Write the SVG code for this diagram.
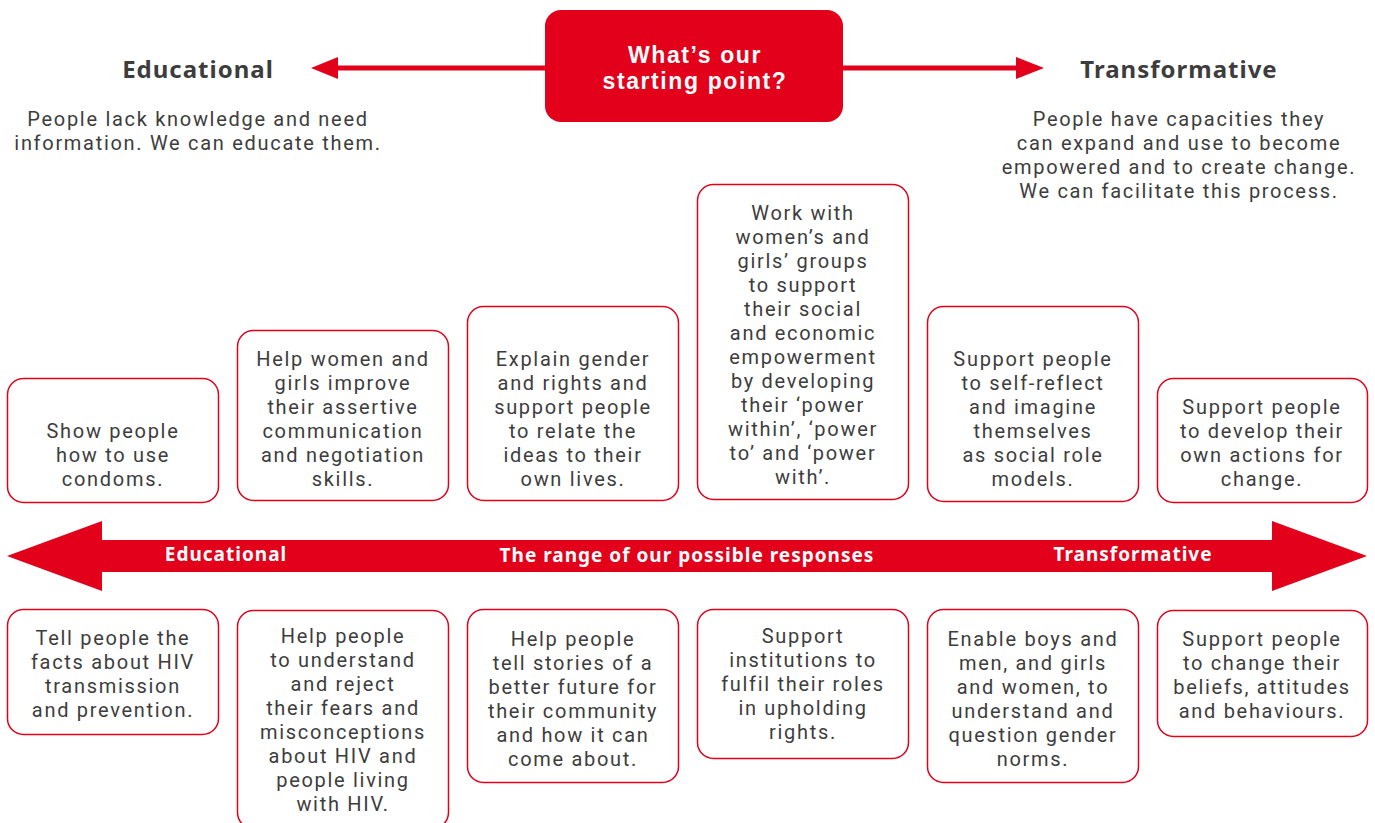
<svg xmlns="http://www.w3.org/2000/svg" width="1375" height="823" viewBox="0 0 1375 823">
<style>
.t{font-family:Roboto,"Noto Sans",sans-serif;font-size:20px;letter-spacing:1.7px;fill:#3d3d3d;text-anchor:middle}
.h{font-family:"Noto Sans",Roboto,sans-serif;font-size:24px;letter-spacing:1px;font-weight:bold;fill:#3d3d3d;text-anchor:middle}
.w{font-family:"Noto Sans",Roboto,sans-serif;font-weight:bold;letter-spacing:1px;fill:#fff;text-anchor:middle}
.q{font-family:"Liberation Sans",Arial,sans-serif;font-size:23px;font-weight:bold;letter-spacing:1.6px;fill:#fff;text-anchor:middle}
.box{fill:#fff;stroke:#e2001a;stroke-width:1.5}
</style>
<rect width="1375" height="823" fill="#fff"/>
<g id="connectors">
<line x1="330" y1="68" x2="545" y2="68" stroke="#e2001a" stroke-width="5"/>
<polygon points="311,68 338,57 338,79" fill="#e2001a"/>
<line x1="843" y1="68" x2="1020" y2="68" stroke="#e2001a" stroke-width="5"/>
<polygon points="1044,68 1016,57 1016,79" fill="#e2001a"/>
<polygon id="range-bar" points="7,556 102,521 102,540 1272,540 1272,521 1367,556 1272,591 1272,572 102,572 102,591" fill="#e2001a"/>
<text class="w" x="226" y="561" font-size="19">Educational</text>
<text class="w" x="687" y="562" font-size="19">The range of our possible responses</text>
<text class="w" x="1133" y="561" font-size="19">Transformative</text>
</g>
<g id="start">
<rect x="545" y="10" width="298" height="112" rx="16" fill="#e2001a"/>
<text class="q" x="695" y="63">What’s our</text>
<text class="q" x="695" y="89">starting point?</text>
</g>
<g id="educational">
<text class="h" x="198" y="78">Educational</text>
<text class="t" x="198" y="126">People lack knowledge and need</text>
<text class="t" x="198" y="150">information. We can educate them.</text>
</g>
<g id="transformative">
<text class="h" x="1179" y="78">Transformative</text>
<text class="t" x="1179" y="126">People have capacities they</text>
<text class="t" x="1179" y="150">can expand and use to become</text>
<text class="t" x="1179" y="174">empowered and to create change.</text>
<text class="t" x="1179" y="198">We can facilitate this process.</text>
</g>
<g id="top1">
<rect class="box" x="7.5" y="378.5" width="211" height="124" rx="16"/>
<text class="t" x="113" y="438">Show people</text>
<text class="t" x="113" y="462">how to use</text>
<text class="t" x="113" y="486">condoms.</text>
</g>
<g id="top2">
<rect class="box" x="237.5" y="330.5" width="211" height="170" rx="16"/>
<text class="t" x="343" y="366">Help women and</text>
<text class="t" x="343" y="390">girls improve</text>
<text class="t" x="343" y="414">their assertive</text>
<text class="t" x="343" y="438">communication</text>
<text class="t" x="343" y="462">and negotiation</text>
<text class="t" x="343" y="486">skills.</text>
</g>
<g id="top3">
<rect class="box" x="467.5" y="306.5" width="211" height="194" rx="16"/>
<text class="t" x="573" y="366">Explain gender</text>
<text class="t" x="573" y="390">and rights and</text>
<text class="t" x="573" y="414">support people</text>
<text class="t" x="573" y="438">to relate the</text>
<text class="t" x="573" y="462">ideas to their</text>
<text class="t" x="573" y="486">own lives.</text>
</g>
<g id="top4">
<rect class="box" x="697.5" y="184.5" width="211" height="315" rx="16"/>
<text class="t" x="803" y="220">Work with</text>
<text class="t" x="803" y="244">women’s and</text>
<text class="t" x="803" y="268">girls’ groups</text>
<text class="t" x="803" y="292">to support</text>
<text class="t" x="803" y="316">their social</text>
<text class="t" x="803" y="340">and economic</text>
<text class="t" x="803" y="364">empowerment</text>
<text class="t" x="803" y="388">by developing</text>
<text class="t" x="803" y="412">their ‘power</text>
<text class="t" x="803" y="436">within’, ‘power</text>
<text class="t" x="803" y="460">to’ and ‘power</text>
<text class="t" x="803" y="484">with’.</text>
</g>
<g id="top5">
<rect class="box" x="927.5" y="306.5" width="211" height="195" rx="16"/>
<text class="t" x="1033" y="366">Support people</text>
<text class="t" x="1033" y="390">to self-reflect</text>
<text class="t" x="1033" y="414">and imagine</text>
<text class="t" x="1033" y="438">themselves</text>
<text class="t" x="1033" y="462">as social role</text>
<text class="t" x="1033" y="486">models.</text>
</g>
<g id="top6">
<rect class="box" x="1157.5" y="378.5" width="210" height="124" rx="16"/>
<text class="t" x="1262" y="414">Support people</text>
<text class="t" x="1262" y="438">to develop their</text>
<text class="t" x="1262" y="462">own actions for</text>
<text class="t" x="1262" y="486">change.</text>
</g>
<g id="bot1">
<rect class="box" x="7.5" y="609.5" width="211" height="125" rx="16"/>
<text class="t" x="113" y="645">Tell people the</text>
<text class="t" x="113" y="669">facts about HIV</text>
<text class="t" x="113" y="693">transmission</text>
<text class="t" x="113" y="717">and prevention.</text>
</g>
<g id="bot2">
<rect class="box" x="237.5" y="610.5" width="211" height="218" rx="16"/>
<text class="t" x="343" y="643">Help people</text>
<text class="t" x="343" y="667">to understand</text>
<text class="t" x="343" y="691">and reject</text>
<text class="t" x="343" y="715">their fears and</text>
<text class="t" x="343" y="739">misconceptions</text>
<text class="t" x="343" y="763">about HIV and</text>
<text class="t" x="343" y="787">people living</text>
<text class="t" x="343" y="811">with HIV.</text>
</g>
<g id="bot3">
<rect class="box" x="467.5" y="609.5" width="211" height="173" rx="16"/>
<text class="t" x="573" y="646">Help people</text>
<text class="t" x="573" y="670">tell stories of a</text>
<text class="t" x="573" y="694">better future for</text>
<text class="t" x="573" y="718">their community</text>
<text class="t" x="573" y="742">and how it can</text>
<text class="t" x="573" y="766">come about.</text>
</g>
<g id="bot4">
<rect class="box" x="697.5" y="609.5" width="211" height="149" rx="16"/>
<text class="t" x="803" y="643">Support</text>
<text class="t" x="803" y="667">institutions to</text>
<text class="t" x="803" y="691">fulfil their roles</text>
<text class="t" x="803" y="715">in upholding</text>
<text class="t" x="803" y="739">rights.</text>
</g>
<g id="bot5">
<rect class="box" x="927.5" y="609.5" width="211" height="173" rx="16"/>
<text class="t" x="1033" y="646">Enable boys and</text>
<text class="t" x="1033" y="670">men, and girls</text>
<text class="t" x="1033" y="694">and women, to</text>
<text class="t" x="1033" y="718">understand and</text>
<text class="t" x="1033" y="742">question gender</text>
<text class="t" x="1033" y="766">norms.</text>
</g>
<g id="bot6">
<rect class="box" x="1157.5" y="610.5" width="210" height="126" rx="16"/>
<text class="t" x="1262" y="646">Support people</text>
<text class="t" x="1262" y="670">to change their</text>
<text class="t" x="1262" y="694">beliefs, attitudes</text>
<text class="t" x="1262" y="718">and behaviours.</text>
</g>
</svg>
